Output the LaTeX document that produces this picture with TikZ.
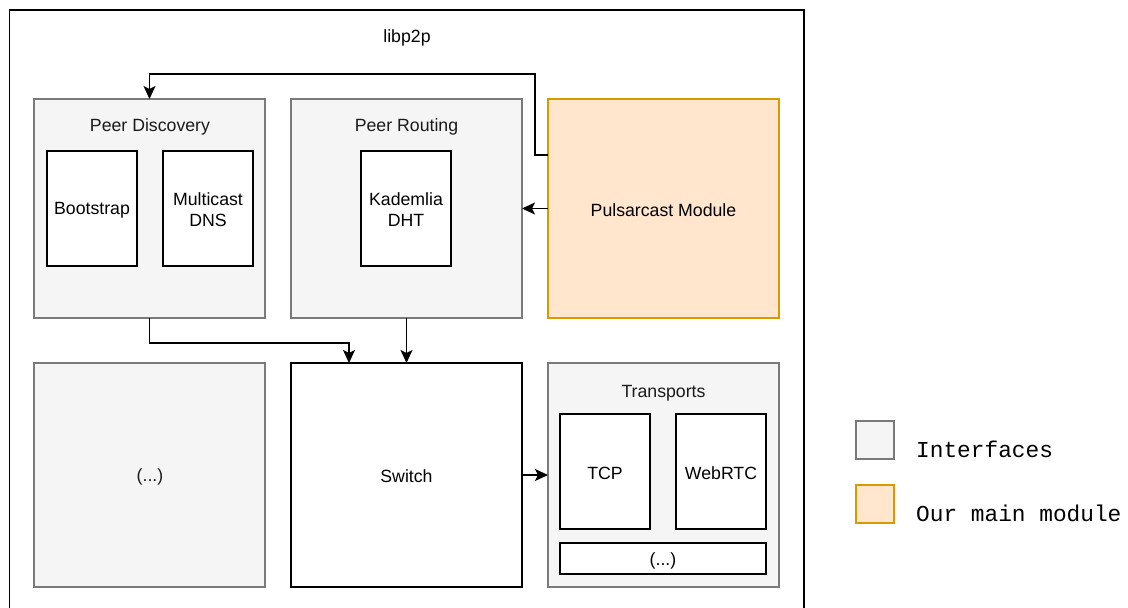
\documentclass[tikz,border=0pt]{standalone}
\usepackage{fontspec}
\setmainfont{Liberation Sans}
\newfontfamily\monofont{Liberation Mono}
\usetikzlibrary{arrows.meta}
\definecolor{gfill}{HTML}{F5F5F5}
\definecolor{gline}{HTML}{7A7A7A}
\definecolor{ofill}{HTML}{FFE6CC}
\definecolor{oline}{HTML}{D79B00}
\definecolor{gtext}{HTML}{1A1A1A}
\tikzset{
  base/.style={inner sep=0pt, outer sep=0pt, line width=1.2pt},
  gbox/.style={base, draw=gline, fill=gfill},
  wbox/.style={base, draw=black, fill=white},
  obox/.style={base, draw=oline, fill=ofill},
  lbl/.style={inner sep=0pt, font=\fontsize{17.7}{21}\selectfont, align=center},
  arr/.style={line width=1.2pt, -{Stealth[length=13pt,width=12pt,inset=3pt]}},
  lgtext/.style={inner sep=0pt, anchor=west, font=\monofont\fontsize{22.8}{26}\selectfont}
}
\begin{document}
\begin{tikzpicture}[x=1pt,y=-1pt]
\useasboundingbox (0,0) rectangle (1128,608);
% outer libp2p frame
\draw[line width=1.2pt] (9.5,10) rectangle (804,640);
\node[lbl] (title) at (407,38) {libp2p};
% Peer discovery
\node[gbox, minimum width=231, minimum height=219] (pd) at (149.5,208.5) {};
\node[lbl, text=gtext] (pdt) at (150,127) {Peer Discovery};
\node[wbox, minimum width=90, minimum height=115] (bs) at (92,208.5) {};
\node[lbl] (bst) at (92,210.5) {Bootstrap};
\node[wbox, minimum width=90, minimum height=115] (md) at (208,208.5) {};
\node[lbl] (mdt) at (208,210) {Multicast\\DNS};
% Peer routing
\node[gbox, minimum width=231, minimum height=219] (pr) at (406.5,208.5) {};
\node[lbl, text=gtext] (prt) at (406.5,127) {Peer Routing};
\node[wbox, minimum width=90, minimum height=115] (kd) at (406,208.5) {};
\node[lbl] (kdt) at (406,210) {Kademlia\\DHT};
% Pulsarcast
\node[obox, minimum width=231, minimum height=219] (pm) at (663.5,208.5) {};
\node[lbl] (pmt) at (663.5,210.5) {Pulsarcast Module};
% (...) box
\node[gbox, minimum width=231, minimum height=224] (etc) at (149.5,475) {};
\node[lbl, text=gtext] (etct) at (150,477) {(...)};
% Switch
\node[wbox, minimum width=231, minimum height=224] (sw) at (406.5,475) {};
\node[lbl] (swt) at (406.5,476.5) {Switch};
% Transports
\node[gbox, minimum width=231, minimum height=224] (tr) at (663.5,475) {};
\node[lbl, text=gtext] (trt) at (663.5,393) {Transports};
\node[wbox, minimum width=90, minimum height=115] (tcp) at (605,471.5) {};
\node[lbl] (tcpt) at (605,473.5) {TCP};
\node[wbox, minimum width=90, minimum height=115] (wr) at (721,471.5) {};
\node[lbl] (wrt) at (721,473.5) {WebRTC};
\node[wbox, minimum width=206, minimum height=31] (te) at (663,558.5) {};
\node[lbl] (tet) at (663,561) {(...)};
% connectors
\coordinate (c1) at (535,74);
\draw[arr] ([yshift=53.5pt]pm.west) -| (c1) -| (pd.north);
\draw[arr] (pm.west) -- (pr.east);
\coordinate (c2) at (149.5,343);
\draw[arr] (pd.south) -- (c2) -| ([xshift=-57.5pt]sw.north);
\draw[arr] (pr.south) -- (sw.north);
\draw[arr] (sw.east) -- (tr.west);
% legend
\node[gbox, minimum width=38, minimum height=38] (lg1) at (875,440) {};
\node[lgtext] (lg1t) at (916,449) {Interfaces};
\node[obox, minimum width=38, minimum height=38] (lg2) at (875,504) {};
\node[lgtext] (lg2t) at (916,513) {Our main module};
\end{tikzpicture}
\end{document}
